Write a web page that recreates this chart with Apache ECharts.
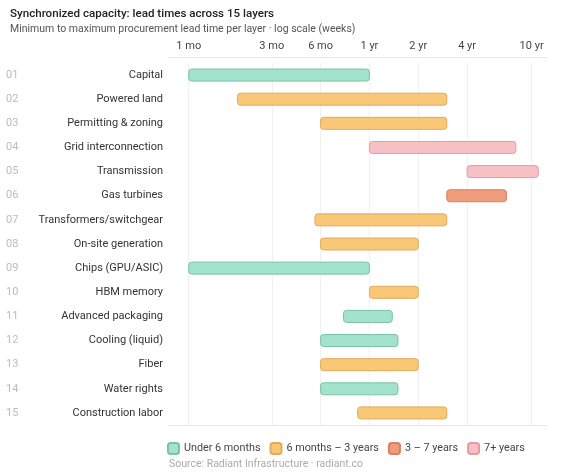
<!DOCTYPE html>
<html>
<head>
<meta charset="utf-8">
<script src="https://cdn.jsdelivr.net/npm/echarts@6/dist/echarts.min.js"></script>
<style>
  html, body { margin: 0; padding: 0; background: #fff; }
  #chart { width: 561px; height: 473px; }
</style>
</head>
<body>
<div id="chart"></div>
<script>
// layers, top to bottom
var layers = ['Capital', 'Powered land', 'Permitting & zoning', 'Grid interconnection',
  'Transmission', 'Gas turbines', 'Transformers/switchgear', 'On-site generation',
  'Chips (GPU/ASIC)', 'HBM memory', 'Advanced packaging', 'Cooling (liquid)',
  'Fiber', 'Water rights', 'Construction labor'];
// lead time in weeks
var minWeeks = [4, 8, 26, 52, 208, 156, 24, 26, 4, 52, 36, 26, 26, 26, 44];
var maxWeeks = [52, 156, 156, 416, 572, 364, 156, 104, 52, 104, 72, 78, 104, 78, 156];
// legend bucket per layer
var bucket = [0, 1, 1, 3, 3, 2, 1, 1, 0, 1, 0, 0, 1, 0, 1];
var bucketNames = ['Under 6 months', '6 months \u2013 3 years', '3 \u2013 7 years', '7+ years'];
// axis ticks (weeks) and labels
var tickWeeks = [4, 13, 26, 52, 104, 208, 520];
var tickLabels = ['1 mo', '3 mo', '6 mo', '1 yr', '2 yr', '4 yr', '10 yr'];

var fills = ['#a3e2cc', '#f9c877', '#f09b79', '#f7c0c4'];
var strokes = ['#79c3a6', '#e2aa5a', '#d9805f', '#e49ca2'];
var font = 'Roboto, "Noto Sans", sans-serif';

var myChart = echarts.init(document.getElementById('chart'));

function renderBar(params, api) {
    var y = api.value(0);
    var lo = api.coord([api.value(1), y]);
    var hi = api.coord([api.value(2), y]);
    var h = 12;
    var st = api.style();
    return {
        type: 'rect',
        shape: { x: lo[0], y: lo[1] - h / 2, width: hi[0] - lo[0], height: h, r: 3 },
        style: { fill: st.fill, stroke: st.stroke, lineWidth: 1 }
    };
}

var series = bucketNames.map(function (name, b) {
    var data = [];
    for (var i = 0; i < layers.length; i++) {
        if (bucket[i] === b) data.push([i, minWeeks[i], maxWeeks[i]]);
    }
    return {
        name: name,
        type: 'custom',
        renderItem: renderBar,
        itemStyle: { color: fills[b], borderColor: strokes[b], borderWidth: 1 },
        encode: { x: [1, 2], y: 0 },
        data: data
    };
});

var option = {
    animation: false,
    textStyle: { fontFamily: font },
    title: [{
        text: 'Synchronized capacity: lead times across 15 layers',
        subtext: 'Minimum to maximum procurement lead time per layer \u00b7 log scale (weeks)',
        left: 5, top: 3, itemGap: 4,
        textStyle: { fontFamily: font, fontSize: 11.6, fontWeight: 500, color: '#222' },
        subtextStyle: { fontFamily: font, fontSize: 10.5, color: '#555' }
    }, {
        text: 'Source: Radiant Infrastructure \u00b7 radiant.co',
        left: 164, top: 454,
        textStyle: { fontFamily: font, fontSize: 10.5, fontWeight: 'normal', color: '#aaa' }
    }],
    legend: {
        left: 162, right: 0, top: 437,
        itemWidth: 11, itemHeight: 11, itemGap: 9,
        icon: 'roundRect',
        textStyle: { fontFamily: font, fontSize: 10.8, color: '#444' },
        data: bucketNames
    },
    grid: { left: 168, right: 14, top: 63, bottom: 48 },
    xAxis: [{
        type: 'log',
        position: 'top',
        offset: 6,
        min: 2.98,
        max: 647,
        axisLine: { show: true, lineStyle: { color: '#e6e6e6' } },
        axisTick: { show: false, customValues: tickWeeks },
        axisLabel: {
            customValues: tickWeeks,
            margin: 5,
            fontFamily: font, fontSize: 11, color: '#444',
            formatter: function (v) {
                for (var i = 0; i < tickWeeks.length; i++) {
                    if (Math.abs(tickWeeks[i] - v) < 0.01) return tickLabels[i];
                }
                return '';
            }
        },
        splitLine: { show: true, lineStyle: { color: '#f0f0f0' } },
        minorTick: { show: false },
        minorSplitLine: { show: false }
    }, {
        type: 'value',
        position: 'bottom',
        axisLine: { show: true, onZero: false, lineStyle: { color: '#e6e6e6' } },
        axisTick: { show: false },
        axisLabel: { show: false },
        splitLine: { show: false }
    }],
    yAxis: {
        type: 'category',
        inverse: true,
        data: layers,
        axisLine: { show: false },
        axisTick: { show: false },
        splitLine: { show: false },
        axisLabel: {
            margin: 5,
            formatter: function (v, i) {
                var n = (i + 1 < 10 ? '0' : '') + (i + 1);
                return '{n|' + n + '}{t|' + v + '}';
            },
            rich: {
                n: { width: 30, align: 'left', fontFamily: font, fontSize: 11, color: '#bbb' },
                t: { width: 127, align: 'right', fontFamily: font, fontSize: 11, color: '#333' }
            }
        }
    },
    series: series
};
myChart.setOption(option);
</script>
</body>
</html>
